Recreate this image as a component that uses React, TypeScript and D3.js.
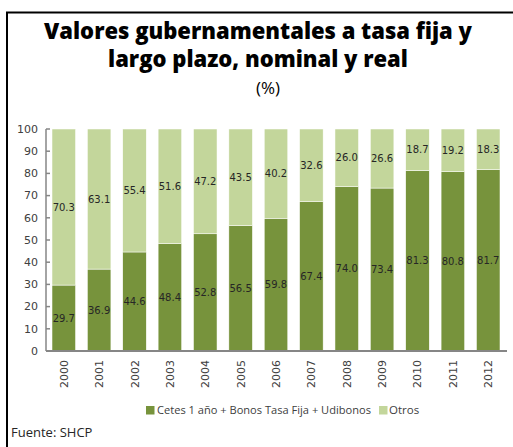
import * as d3 from "d3";

const years = ["2000", "2001", "2002", "2003", "2004", "2005", "2006", "2007", "2008", "2009", "2010", "2011", "2012"];
const cetes = [29.7, 36.9, 44.6, 48.4, 52.8, 56.5, 59.8, 67.4, 74.0, 73.4, 81.3, 80.8, 81.7];
const otros = [70.3, 63.1, 55.4, 51.6, 47.2, 43.5, 40.2, 32.6, 26.0, 26.6, 18.7, 19.2, 18.3];
const yTicks = [0, 10, 20, 30, 40, 50, 60, 70, 80, 90, 100];
const seriesNames = ["Cetes 1 año + Bonos Tasa Fija + Udibonos", "Otros"];

const colors = ["#77933c", "#c3d69b"];

export default function App() {
  const W = 513;
  const H = 447;
  const left = 46;
  const right = 506;
  const top = 129;
  const bottom = 351;

  const x = d3.scaleBand<string>().domain(years).range([left, right]).paddingInner(0.335).paddingOuter(0.17);
  const y = d3.scaleLinear().domain([0, 100]).range([bottom, top]);

  const rows = years.map((yr, i) => ({ year: yr, cetes: cetes[i], otros: otros[i] }));
  const stack = d3.stack<any>().keys(["cetes", "otros"])(rows);

  const labelFont = "DejaVu Sans, sans-serif";
  const titleFont = "Open Sans, sans-serif";

  return (
    <svg width={W} height={H} style={{ position: "absolute", left: 0, top: 0, background: "#fff" }}>
      <rect x={0} y={0} width={W} height={H} fill="#fff" />
      {/* frame */}
      <line x1={6} x2={W} y1={12.5} y2={12.5} stroke="#000" strokeWidth={2} />
      <line x1={7} x2={7} y1={12} y2={H} stroke="#000" strokeWidth={2} />

      <text x={258} y={39} textAnchor="middle" fontFamily={titleFont} fontWeight={800} fontSize={22} fill="#000">
        Valores gubernamentales a tasa fija y
      </text>
      <text x={258} y={67} textAnchor="middle" fontFamily={titleFont} fontWeight={800} fontSize={22} fill="#000">
        largo plazo, nominal y real
      </text>
      <text x={268} y={94} textAnchor="middle" fontFamily={titleFont} fontSize={17} fill="#000">
        (%)
      </text>

      {stack.map((layer, li) =>
        layer.map((d: any, i: number) => (
          <rect
            key={`${li}-${i}`}
            x={x(years[i])}
            y={y(d[1])}
            width={x.bandwidth()}
            height={y(d[0]) - y(d[1])}
            fill={colors[li]}
            stroke="#fff"
            strokeWidth={0.5}
          />
        ))
      )}

      {stack.map((layer, li) =>
        layer.map((d: any, i: number) => (
          <text
            key={`t${li}-${i}`}
            x={(x(years[i]) as number) + x.bandwidth() / 2}
            y={y((d[0] + d[1]) / 2)}
            dy="0.35em"
            textAnchor="middle"
            fontFamily={labelFont}
            fontSize={10}
            fill="#262626"
          >
            {(d[1] - d[0]).toFixed(1)}
          </text>
        ))
      )}

      {/* y axis */}
      <line x1={left} x2={left} y1={top} y2={bottom} stroke="#868686" strokeWidth={1.5} />
      {yTicks.map((t) => (
        <g key={t}>
          <line x1={left} x2={left + 4} y1={y(t)} y2={y(t)} stroke="#868686" strokeWidth={1.5} />
          <text x={38} y={y(t)} dy="0.35em" textAnchor="end" fontFamily={labelFont} fontSize={11} fill="#404040">
            {t}
          </text>
        </g>
      ))}
      {/* x axis */}
      <line x1={left} x2={right + 1} y1={bottom} y2={bottom} stroke="#868686" strokeWidth={2} />
      {years.map((yr) => {
        const cx = (x(yr) as number) + x.bandwidth() / 2;
        return (
          <text
            key={yr}
            transform={`translate(${cx + 4},${360}) rotate(-90)`}
            textAnchor="end"
            fontFamily={labelFont}
            fontSize={11}
            fill="#404040"
          >
            {yr}
          </text>
        );
      })}

      {/* legend */}
      <rect x={146} y={406} width={8.5} height={8.5} fill={colors[0]} />
      <text x={157} y={414} fontFamily={titleFont} fontSize={11.5} textLength={214} lengthAdjust="spacingAndGlyphs" fill="#404040">
        {seriesNames[0]}
      </text>
      <rect x={379} y={406} width={8.5} height={8.5} fill={colors[1]} />
      <text x={389} y={414} fontFamily={titleFont} fontSize={11.5} fill="#404040">
        {seriesNames[1]}
      </text>

      <text x={11} y={437} fontFamily={titleFont} fontSize={13} fill="#262626">
        Fuente: SHCP
      </text>
    </svg>
  );
}
